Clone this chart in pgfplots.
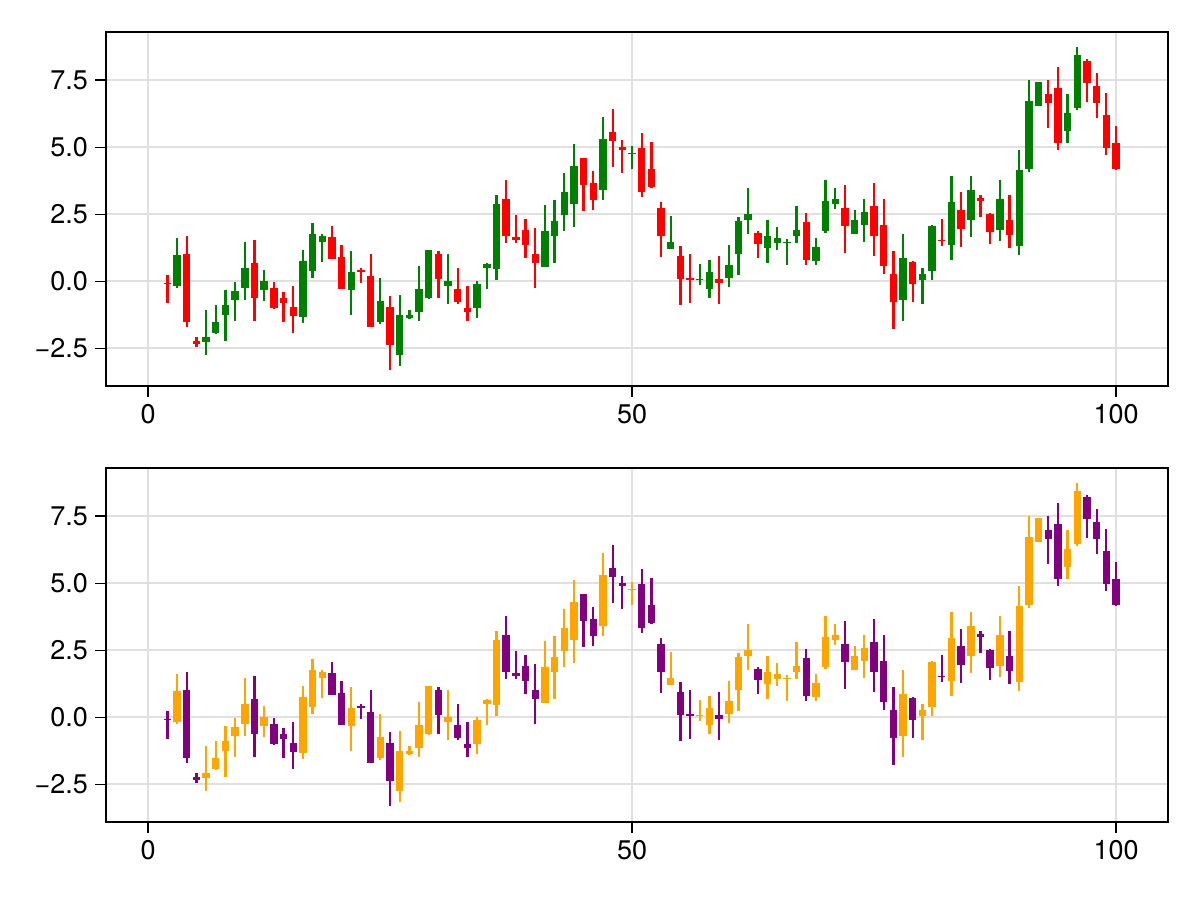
\documentclass[border=0pt]{standalone}
\usepackage{fontspec}
\setmainfont{TeX Gyre Heros}
\usepackage{pgfplots}
\usepackage{pgfplotstable}
\pgfplotsset{compat=1.18}
\definecolor{mgreen}{RGB}{0,128,0}
\definecolor{mred}{RGB}{255,0,0}
\definecolor{morange}{RGB}{255,165,0}
\definecolor{mpurple}{RGB}{128,0,128}

% rising candles: x open high low close
\pgfplotstableread{
x o h l c
3 -0.19 1.63 -0.24 0.97
6 -2.27 -1.06 -2.73 -2.08
7 -1.93 -0.90 -1.95 -1.50
8 -1.27 -0.34 -2.21 -0.90
9 -0.71 -0.02 -1.46 -0.37
10 -0.24 1.45 -0.71 0.50
12 -0.34 0.44 -0.75 0.00
16 -1.33 1.16 -1.55 0.75
17 0.37 2.19 0.12 1.76
18 1.47 1.76 0.72 1.68
21 -0.34 1.12 -1.25 0.35
24 -1.52 0.14 -1.58 -0.75
26 -2.74 -0.50 -3.14 -1.25
27 -1.36 -1.05 -1.42 -1.25
28 -1.15 0.56 -1.46 -0.27
29 -0.61 1.18 -0.65 1.16
31 -0.17 1.00 -0.86 0.00
34 -0.98 0.00 -1.36 -0.09
35 0.50 0.68 -0.30 0.66
36 0.45 3.21 0.04 2.90
41 0.55 2.86 0.53 1.87
42 1.69 3.02 0.68 2.24
43 2.46 4.02 1.88 3.33
44 2.90 5.10 2.03 4.29
47 3.42 6.13 3.02 5.29
50 4.76 5.04 4.17 4.80
54 1.22 2.43 1.22 1.47
57 0.04 0.63 -0.15 0.07
58 -0.30 0.78 -0.61 0.35
60 0.11 1.34 -0.21 0.61
61 1.01 2.38 0.25 2.24
62 2.28 3.46 1.75 2.52
64 1.26 2.28 0.68 1.68
65 1.43 2.03 1.18 1.62
66 1.41 1.57 0.62 1.47
67 1.69 2.80 1.41 1.93
69 0.76 1.63 0.62 1.28
70 1.87 3.77 1.80 2.99
71 2.87 3.46 2.69 3.05
73 1.78 2.67 1.75 2.30
74 2.09 3.06 1.47 2.59
78 -0.71 1.78 -1.46 0.88
80 0.04 0.50 -0.86 0.29
81 0.39 2.09 0.06 2.05
83 1.37 3.93 0.78 2.96
85 2.30 3.93 1.65 3.42
88 1.93 3.77 1.49 3.05
90 1.31 4.91 0.97 4.14
91 4.20 7.50 4.08 6.72
92 6.54 7.41 6.54 7.41
95 5.61 6.98 5.16 6.26
96 6.47 8.72 6.38 8.43
}\up

% falling candles: x open high low close
\pgfplotstableread{
x o h l c
2 -0.05 0.25 -0.80 -0.08
4 1.02 1.68 -1.71 -1.52
5 -2.21 -2.06 -2.46 -2.33
11 0.69 1.53 -1.46 -0.61
13 -0.25 -0.02 -1.02 -0.99
14 -0.62 -0.40 -1.52 -0.81
15 -0.94 -0.17 -1.92 -1.30
19 1.66 2.07 0.82 0.82
20 0.91 1.35 -0.27 -0.27
22 0.44 0.51 -0.05 0.36
23 0.19 1.00 -1.71 -1.71
25 -0.94 -0.55 -3.30 -2.39
30 1.03 1.12 -0.61 0.10
32 -0.27 0.51 -0.83 -0.77
33 -0.98 -0.19 -1.48 -1.14
37 3.08 3.79 1.41 1.69
38 1.65 2.49 1.41 1.53
39 1.93 2.34 0.87 1.37
40 1.03 1.97 -0.25 0.70
45 4.58 4.58 2.61 3.58
46 3.68 4.10 2.67 3.02
48 5.57 6.42 4.27 5.22
49 5.01 5.26 4.04 4.91
51 4.95 5.51 3.15 3.33
52 4.20 5.21 3.46 3.50
53 2.74 2.96 0.91 1.68
55 0.95 1.32 -0.90 0.07
56 0.14 1.00 -0.81 0.06
59 0.07 0.93 -0.83 -0.06
63 1.80 1.87 0.88 1.38
68 2.21 2.56 0.62 0.78
72 2.75 3.58 1.07 2.06
75 2.81 3.68 0.93 1.69
76 2.09 3.06 0.29 0.57
77 0.26 1.12 -1.77 -0.77
79 0.72 0.76 -0.77 -0.11
82 1.55 2.34 1.32 1.52
84 2.65 3.31 1.28 1.94
86 3.11 3.23 2.38 3.00
87 2.52 2.56 1.38 1.84
89 2.30 3.21 1.24 1.72
93 6.98 7.50 5.73 6.65
94 7.19 8.00 4.91 5.16
97 8.22 8.27 6.67 7.38
98 7.29 7.75 6.09 6.65
99 6.19 7.03 4.70 4.98
100 5.14 5.78 4.14 4.20
}\down

\pgfplotsset{
  candleaxis/.style={
    scale only axis, width=531pt, height=177pt,
    xmin=-4.34, xmax=105.37, ymin=-3.9, ymax=9.29,
    xtick={0,50,100}, xticklabels={0,50,100},
    ytick={-2.5,0,2.5,5,7.5}, yticklabels={−2.5,0.0,2.5,5.0,7.5},
    grid=major, major grid style={line width=1pt, draw=black!12},
    axis line style={line width=1pt},
    tick align=outside, major tick length=5.5pt,
    tick style={line width=0.6pt, black},
    xtick pos=bottom, ytick pos=left,
    tick label style={font=\fontsize{13.5}{16}\selectfont},
  },
  wick/.style={draw=none, no markers, forget plot,
    error bars/.cd, y dir=plus, y explicit, error mark=none,
    error bar style={line width=1.15pt, draw=#1, solid}},
  body/.style={draw=none, no markers, forget plot,
    error bars/.cd, y dir=plus, y explicit, error mark=none,
    error bar style={line width=3.7pt, draw=#1, solid}},
}

\begin{document}
\begin{tikzpicture}
\useasboundingbox (0,0) rectangle (600pt,450pt);
\begin{axis}[candleaxis, at={(53pt,257pt)}, anchor=south west]
\addplot[wick=mgreen] table[x=x, y=l, y error plus expr=\thisrow{h}-\thisrow{l}] {\up};
\addplot[body=mgreen] table[x=x, y=o, y error plus expr=\thisrow{c}-\thisrow{o}] {\up};
\addplot[wick=mred] table[x=x, y=l, y error plus expr=\thisrow{h}-\thisrow{l}] {\down};
\addplot[body=mred] table[x=x, y=c, y error plus expr=\thisrow{o}-\thisrow{c}] {\down};
\end{axis}
\begin{axis}[candleaxis, at={(53pt,39pt)}, anchor=south west]
\addplot[wick=morange] table[x=x, y=l, y error plus expr=\thisrow{h}-\thisrow{l}] {\up};
\addplot[body=morange] table[x=x, y=o, y error plus expr=\thisrow{c}-\thisrow{o}] {\up};
\addplot[wick=mpurple] table[x=x, y=l, y error plus expr=\thisrow{h}-\thisrow{l}] {\down};
\addplot[body=mpurple] table[x=x, y=c, y error plus expr=\thisrow{o}-\thisrow{c}] {\down};
\end{axis}
\end{tikzpicture}
\end{document}
